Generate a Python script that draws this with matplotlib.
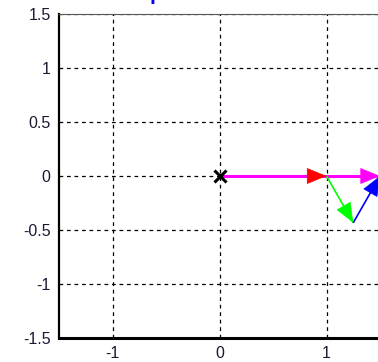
import numpy as np
import matplotlib.pyplot as plt

# phasors (tip-to-tail addition)
p_red = 1.0 + 0.0j
p_green = 0.25 - 0.433j
p_blue = 0.25 + 0.433j
p_sum = p_red + p_green + p_blue

ticks_x = [-1, 0, 1]
ticks_y = [-1.5, -1, -0.5, 0, 0.5, 1, 1.5]
title = 'phasor addition'

plt.rcParams['font.family'] = ['Liberation Sans', 'DejaVu Sans']

fig = plt.figure(figsize=(3.78, 3.62), dpi=100)
ax = fig.add_axes([59 / 378, 24 / 362, 321 / 378, 324 / 362])

ax.set_xlim(-1.5, 1.5)
ax.set_ylim(-1.5, 1.5)
ax.set_xticks(ticks_x)
ax.set_yticks(ticks_y)
ax.set_xticklabels([f'{t:g}' for t in ticks_x])
ax.set_yticklabels([f'{t:g}' for t in ticks_y])
ax.tick_params(length=0, labelsize=11.5, colors='#1a1a33', pad=6)
ax.grid(True, color='black', linestyle=(0, (3, 3)), linewidth=0.9)
for side in ['left', 'bottom']:
    ax.spines[side].set_linewidth(1.6)
ax.spines['bottom'].set_linewidth(2.2)
ax.spines['top'].set_linewidth(0.8)
ax.spines['top'].set_color('#555555')

# list of (start, end, colour, width) in drawing order
vecs = [
    (0, p_red, 'red', 2.0),
    (0, p_sum, 'magenta', 2.2),
    (p_red, p_red + p_green, '#00ff00', 1.2),
    (p_red + p_green, p_sum, 'blue', 1.2),
]

for i, (a, b, c, w) in enumerate(vecs):
    ax.plot([a.real, b.real], [a.imag, b.imag], color=c, lw=w, zorder=3 + i,
            solid_capstyle='butt', clip_on=False)

for i, (a, b, c, w) in enumerate(vecs):
    d = (b - a) / abs(b - a)
    tail = b - 0.01 * d
    ax.annotate('', xy=(b.real, b.imag), xytext=(tail.real, tail.imag),
                arrowprops=dict(arrowstyle='-|>,head_length=1.1,head_width=0.45',
                                color=c, lw=0.5, shrinkA=0, shrinkB=0,
                                mutation_scale=12),
                zorder=10 + i, annotation_clip=False)

ax.plot([0], [0], marker='x', color='black', markersize=9, mew=2.2, zorder=20)

# title sits mostly above the cropped top edge, only the descender shows
fig.text(150 / 378, 1 + 0.3 / 362, title, color='blue', fontsize=15,
         fontweight='bold', ha='left', va='baseline')

fig.savefig('out.png', dpi=100)
